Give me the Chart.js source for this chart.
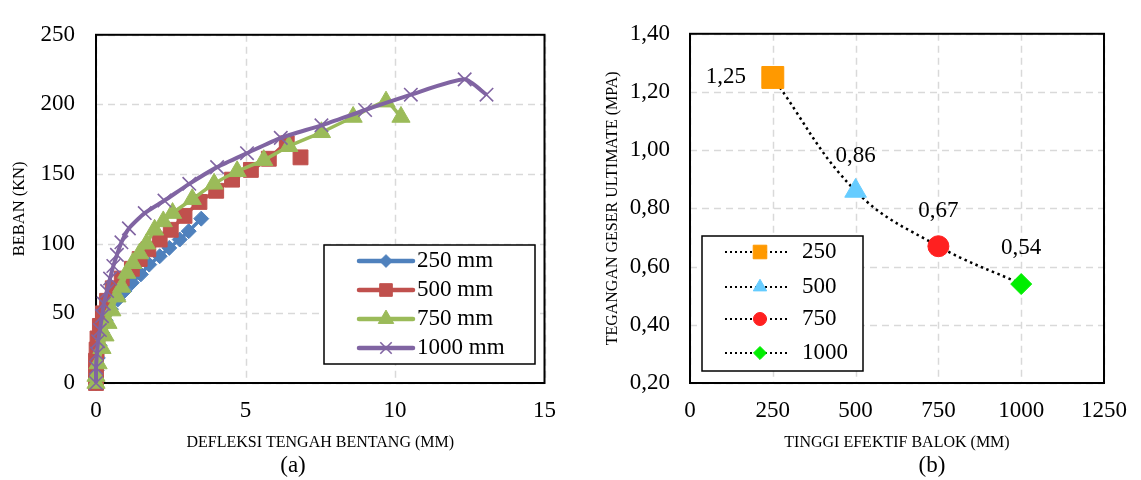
<!DOCTYPE html>
<html>
<head>
<title>Beban - Defleksi dan Tegangan Geser Ultimate</title>
<script src="https://cdn.jsdelivr.net/npm/chart.js@4.4.0/dist/chart.umd.min.js"></script>
<style>
body { margin: 0; background: #fff; }
#wrapA { position: absolute; left: 0; top: 0; width: 570px; height: 480px; }
#wrapB { position: absolute; left: 570px; top: 0; width: 571px; height: 480px; }
</style>
</head>
<body>
<div id="wrapA"><canvas id="chartA" width="570" height="480"></canvas></div>
<div id="wrapB"><canvas id="chartB" width="571" height="480"></canvas></div>

<script>
// ---- (a) beban vs defleksi tengah bentang ----
const defl250 = [0, 0.02, 0.06, 0.12, 0.2, 0.32, 0.5, 0.73, 0.95, 1.2, 1.5, 1.78, 2.13, 2.45, 2.8, 3.1, 3.52];
const load250 = [0, 9, 18, 27, 36, 45, 53, 60, 66, 72, 78, 85, 91, 97, 103, 109, 118];

const defl500 = [0, 0, 0, 0.02, 0.05, 0.13, 0.23, 0.37, 0.56, 0.86, 1.2, 1.46, 1.75, 2.13, 2.5, 2.96, 3.46, 4.02, 4.55, 5.18, 5.78, 6.38, 6.84];
const load500 = [0, 8, 16, 24, 32, 41, 50, 59, 68, 75, 82, 89, 96, 103, 110, 120, 130, 138, 146, 153, 161, 172, 162];

const defl750 = [0, 0, 0.07, 0.2, 0.3, 0.4, 0.53, 0.7, 0.86, 1.03, 1.23, 1.46, 1.69, 1.96, 2.25, 2.56, 3.22, 3.95, 4.72, 5.61, 6.45, 7.54, 8.6, 9.7, 10.2];
const load750 = [0, 5, 14, 25, 34, 43, 52, 62, 69, 79, 86, 93, 100, 110, 116, 122, 132, 143, 152, 160, 170, 180, 191, 202, 191];

const defl1000 = [0, 0, 0.03, 0.07, 0.13, 0.2, 0.26, 0.37, 0.47, 0.58, 0.7, 0.85, 1.1, 1.63, 2.29, 3.12, 4.05, 5.05, 6.18, 7.54, 9.0, 10.53, 12.33, 13.06];
const load1000 = [0, 11, 21, 30, 38, 48, 57, 66, 75, 84, 92, 101, 111, 122, 131, 143, 155, 165, 176, 185, 196, 207, 218, 207];

const xTicksA = [0, 5, 10, 15];
const yTicksA = [0, 50, 100, 150, 200, 250];

// ---- (b) tegangan geser ultimate vs tinggi efektif ----
const namaB = ['250', '500', '750', '1000'];
const tinggi = [250, 500, 750, 1000];
const tegangan = [1.25, 0.86, 0.67, 0.54];
const xTicksB = [0, 250, 500, 750, 1000, 1250];
const yTicksB = [0.2, 0.4, 0.6, 0.8, 1.0, 1.2, 1.4];

const FONT = "'Liberation Serif', 'Times New Roman', serif";

function pts(xs, ys) {
    return xs.map(function (x, i) { return { x: x, y: ys[i] }; });
}
function fixTicks(arr) {
    return function (scale) { scale.ticks = arr.map(function (v) { return { value: v }; }); };
}
function comma(v) { return v.toFixed(2).replace('.', ','); }

// dashed grid + black frame round the plot area (under the markers)
const frame = {
    id: 'frame',
    beforeDatasetsDraw(chart) {
        const a = chart.chartArea, ctx = chart.ctx;
        ctx.save();
        ctx.strokeStyle = '#d9d9d9';
        ctx.lineWidth = 1.5;
        ctx.setLineDash([7, 5]);
        ['x', 'y'].forEach(function (id) {
            const sc = chart.scales[id];
            sc.ticks.forEach(function (t) {
                const p = Math.round(sc.getPixelForValue(t.value)) + 0.5;
                ctx.beginPath();
                if (id === 'x') { ctx.moveTo(p, a.top); ctx.lineTo(p, a.bottom); }
                else { ctx.moveTo(a.left, p); ctx.lineTo(a.right, p); }
                ctx.stroke();
            });
        });
        ctx.setLineDash([]);
        ctx.strokeStyle = '#000';
        ctx.lineWidth = 2;
        ctx.strokeRect(a.left, a.top, a.right - a.left, a.bottom - a.top);
        ctx.restore();
    }
};

// boxed legend: line + marker + text
const boxLegend = {
    id: 'boxLegend',
    afterDatasetsDraw(chart, args, o) {
        const ctx = chart.ctx;
        ctx.save();
        ctx.fillStyle = '#fff';
        ctx.fillRect(o.box[0], o.box[1], o.box[2], o.box[3]);
        ctx.strokeStyle = '#000';
        ctx.lineWidth = 1.5;
        ctx.strokeRect(o.box[0], o.box[1], o.box[2], o.box[3]);
        o.rows.forEach(function (y, i) {
            const ds = chart.data.datasets[i];
            ctx.save();
            ctx.beginPath();
            ctx.strokeStyle = o.lineColor || ds.borderColor;
            ctx.lineWidth = o.lineWidth || ds.borderWidth;
            ctx.lineCap = o.dash ? 'butt' : 'round';
            ctx.setLineDash(o.dash || []);
            ctx.moveTo(o.lineX[0], y);
            ctx.lineTo(o.lineX[1], y);
            ctx.stroke();
            ctx.restore();
            ctx.save();
            ctx.fillStyle = ds.pointBackgroundColor;
            ctx.strokeStyle = ds.pointBorderColor;
            ctx.lineWidth = ds.pointBorderWidth;
            Chart.helpers.drawPoint(ctx, {
                pointStyle: ds.pointStyle,
                radius: ds.pointRadius * o.scale,
                rotation: 0,
                borderWidth: ds.pointBorderWidth
            }, o.markX, y);
            ctx.restore();
            ctx.fillStyle = '#000';
            ctx.font = o.font;
            ctx.textBaseline = 'middle';
            ctx.textAlign = 'left';
            ctx.fillText(ds.label, o.textX, y);
        });
        ctx.restore();
    }
};

// caption under the chart
const caption = {
    id: 'caption',
    afterDraw(chart, args, o) {
        const ctx = chart.ctx;
        ctx.save();
        ctx.fillStyle = '#000';
        ctx.font = o.font;
        ctx.textAlign = 'center';
        ctx.textBaseline = 'middle';
        ctx.fillText(o.text, o.x, o.y);
        ctx.restore();
    }
};

// value labels for chart (b)
const valueLabels = {
    id: 'valueLabels',
    afterDatasetsDraw(chart, args, o) {
        const ctx = chart.ctx;
        ctx.save();
        ctx.fillStyle = '#000';
        ctx.font = o.font;
        ctx.textAlign = 'center';
        ctx.textBaseline = 'middle';
        tegangan.forEach(function (v, i) {
            const el = chart.getDatasetMeta(i).data[0];
            ctx.fillText(comma(v), el.x + o.offsets[i][0], el.y + o.offsets[i][1]);
        });
        ctx.restore();
    }
};

const noGrid = { display: false, drawTicks: false };

// ---------- chart (a) ----------
const seriesA = [
    { label: '250 mm', xs: defl250, ys: load250, color: '#4F81BD', style: 'rectRot', r: 7.5, order: 4 },
    { label: '500 mm', xs: defl500, ys: load500, color: '#C0504D', style: 'rect', r: 10.5, order: 3 },
    { label: '750 mm', xs: defl750, ys: load750, color: '#9BBB59', style: 'triangle', r: 10.5, order: 2 },
    { label: '1000 mm', xs: defl1000, ys: load1000, color: '#8064A2', style: 'crossRot', r: 9.5, order: 1 }
];

new Chart(document.getElementById('chartA'), {
    type: 'scatter',
    data: {
        datasets: seriesA.map(function (s) {
            const cross = s.style === 'crossRot';
            return {
                label: s.label,
                data: pts(s.xs, s.ys),
                showLine: true,
                borderColor: s.color,
                backgroundColor: s.color,
                borderWidth: cross ? 4 : 3.5,
                tension: 0.2,
                pointStyle: s.style,
                pointRadius: s.r,
                pointHoverRadius: s.r,
                pointBackgroundColor: s.color,
                pointBorderColor: s.color,
                pointBorderWidth: cross ? 1.6 : 1,
                order: s.order,
                clip: false
            };
        })
    },
    options: {
        responsive: false,
        animation: false,
        events: [],
        layout: { padding: { top: 19, right: 22, left: 0, bottom: 0 } },
        scales: {
            x: {
                type: 'linear',
                min: 0, max: 15,
                afterBuildTicks: fixTicks(xTicksA),
                afterFit: function (s) { s.height = 97; },
                grid: noGrid,
                border: { display: false },
                ticks: { color: '#000', padding: 14, font: { family: FONT, size: 23 },
                    callback: function (v) { return String(v); } },
                title: {
                    display: true, text: 'DEFLEKSI TENGAH BENTANG (MM)', color: '#000',
                    font: { family: FONT, size: 16 }, padding: { top: 0, bottom: 28 }
                }
            },
            y: {
                min: 0, max: 250,
                afterBuildTicks: fixTicks(yTicksA),
                afterFit: function (s) { s.width = 96; },
                grid: noGrid,
                border: { display: false },
                ticks: { color: '#000', padding: 21, font: { family: FONT, size: 23 },
                    callback: function (v) { return String(v); } },
                title: {
                    display: true, text: 'BEBAN (KN)', color: '#000',
                    font: { family: FONT, size: 16.5 }, padding: { top: 10, bottom: 0 }
                }
            }
        },
        plugins: {
            legend: { display: false },
            tooltip: { enabled: false },
            boxLegend: {
                box: [324, 245, 211, 119],
                rows: [261, 290, 319, 348],
                lineX: [359, 413], markX: 386, textX: 417, scale: 0.85,
                lineWidth: 4.5,
                font: '23px ' + FONT
            },
            caption: { text: '(a)', x: 293, y: 466, font: '23px ' + FONT }
        }
    },
    plugins: [frame, boxLegend, caption]
});

// ---------- chart (b) ----------
const styleB = [
    { color: '#FF9900', style: 'rect', r: 15.5 },
    { color: '#66CCFF', style: 'triangle', r: 12.5 },
    { color: '#FF2020', style: 'circle', r: 10.5 },
    { color: '#00EE00', style: 'rectRot', r: 10.5 }
];

const dsB = namaB.map(function (n, i) {
    return {
        label: n,
        data: [{ x: tinggi[i], y: tegangan[i] }],
        showLine: false,
        pointStyle: styleB[i].style,
        pointRadius: styleB[i].r,
        pointHoverRadius: styleB[i].r,
        pointBackgroundColor: styleB[i].color,
        pointBorderColor: styleB[i].color,
        pointBorderWidth: 1,
        order: 1,
        clip: false
    };
});
dsB.push({
    label: 'kurva',
    data: pts(tinggi, tegangan),
    showLine: true,
    borderColor: '#000',
    borderWidth: 2.5,
    borderDash: [2.5, 3.5],
    tension: 0.4,
    pointRadius: 0,
    order: 5
});

new Chart(document.getElementById('chartB'), {
    type: 'scatter',
    data: { datasets: dsB },
    options: {
        responsive: false,
        animation: false,
        events: [],
        layout: { padding: { top: 20, right: 30, left: 0, bottom: 0 } },
        scales: {
            x: {
                type: 'linear',
                min: 0, max: 1250,
                afterBuildTicks: fixTicks(xTicksB),
                afterFit: function (s) { s.height = 97; },
                grid: noGrid,
                border: { display: false },
                ticks: { color: '#000', padding: 14, font: { family: FONT, size: 23 },
                    callback: function (v) { return String(v); } },
                title: {
                    display: true, text: 'TINGGI EFEKTIF BALOK (MM)', color: '#000',
                    font: { family: FONT, size: 16 }, padding: { top: 0, bottom: 28 }
                }
            },
            y: {
                min: 0.2, max: 1.4,
                afterBuildTicks: fixTicks(yTicksB),
                afterFit: function (s) { s.width = 120; },
                grid: noGrid,
                border: { display: false },
                ticks: {
                    color: '#000', padding: 20, font: { family: FONT, size: 23 },
                    callback: function (v) { return comma(v); }
                },
                title: {
                    display: true, text: 'TEGANGAN GESER ULTIMATE (MPA)', color: '#000',
                    font: { family: FONT, size: 16 }, padding: { top: 33, bottom: 0 }
                }
            }
        },
        plugins: {
            legend: { display: false },
            tooltip: { enabled: false },
            boxLegend: {
                box: [132, 236, 161, 135],
                rows: [252, 287, 319, 353],
                lineX: [155, 220], markX: 190, textX: 232, scale: 0.62,
                lineColor: '#000', lineWidth: 2, dash: [2, 3],
                font: '23px ' + FONT
            },
            valueLabels: {
                font: '23px ' + FONT,
                offsets: [[-47, 0], [0, -35], [0, -35], [0, -36]]
            },
            caption: { text: '(b)', x: 362, y: 466, font: '23px ' + FONT }
        }
    },
    plugins: [frame, boxLegend, valueLabels, caption]
});
</script>
</body>
</html>
